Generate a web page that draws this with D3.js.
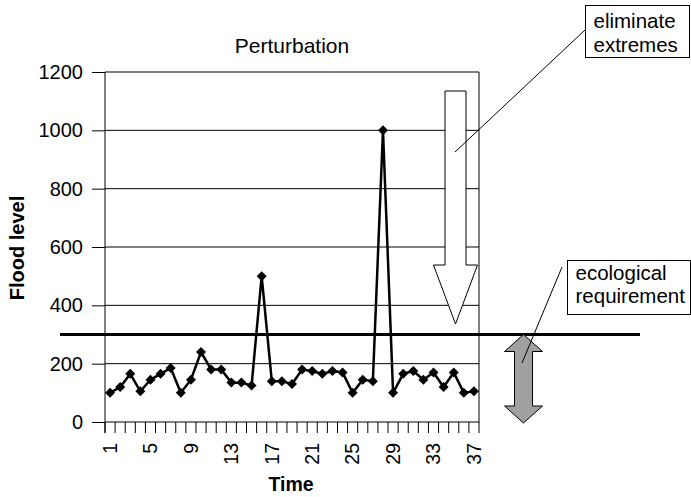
<!DOCTYPE html>
<html>
<head>
<meta charset="utf-8">
<script src="https://cdn.jsdelivr.net/npm/d3@7"></script>
<style>
  html, body { margin: 0; padding: 0; background: #fff; }
  svg text { font-family: "Liberation Sans", Arial, Helvetica, sans-serif; fill: #000; }
</style>
</head>
<body>
<svg id="chart" width="691" height="497"></svg>
<script>
// Time steps and flood level readings
const times = d3.range(1, 38);
const floodLevels = [100, 120, 165, 105, 145, 165, 185, 100, 145, 240,
                     180, 180, 135, 135, 125, 500, 140, 140, 130, 180,
                     175, 165, 175, 170, 100, 145, 140, 1000, 100, 165,
                     175, 145, 170, 120, 170, 100, 105];
const yTicks = [0, 200, 400, 600, 800, 1000, 1200];
const xTickLabels = [1, 5, 9, 13, 17, 21, 25, 29, 33, 37];
const requirementLevel = 300;

const svg = d3.select("#chart");
const plot = { left: 105, right: 479, top: 72, bottom: 422 };

const x = d3.scaleBand().domain(times).range([plot.left, plot.right]).padding(0);
const y = d3.scaleLinear().domain([0, 1200]).range([plot.bottom, plot.top]);

// Horizontal gridlines
svg.append("g")
  .selectAll("line")
  .data(yTicks.filter(d => d > 0))
  .join("line")
  .attr("x1", plot.left).attr("x2", plot.right)
  .attr("y1", d => y(d)).attr("y2", d => y(d))
  .attr("stroke", "#000").attr("stroke-width", 1);

// Right border of plot area
svg.append("line")
  .attr("x1", plot.right).attr("x2", plot.right)
  .attr("y1", plot.top).attr("y2", plot.bottom)
  .attr("stroke", "#000").attr("stroke-width", 1);

// Y axis
const yAxis = svg.append("g")
  .attr("transform", `translate(${plot.left},0)`)
  .call(d3.axisLeft(y).tickValues(yTicks).tickSize(13).tickPadding(9).tickFormat(d3.format("d")));
yAxis.select(".domain").attr("stroke", "#000").attr("d", `M0,${plot.top}V${plot.bottom + 11}`);
yAxis.selectAll(".tick line").attr("stroke", "#000");
yAxis.selectAll(".tick text").attr("font-size", 20).attr("font-family", "Liberation Sans, Arial, sans-serif");

// X axis: line, boundary ticks, rotated labels
const xAxisG = svg.append("g");
xAxisG.append("line")
  .attr("x1", plot.left).attr("x2", plot.right)
  .attr("y1", plot.bottom).attr("y2", plot.bottom)
  .attr("stroke", "#000");
const boundaries = times.map(t => x(t)).concat([x(times[times.length - 1]) + x.bandwidth()]);
xAxisG.selectAll("line.tk")
  .data(boundaries)
  .join("line").attr("class", "tk")
  .attr("x1", d => d).attr("x2", d => d)
  .attr("y1", plot.bottom).attr("y2", plot.bottom + 11)
  .attr("stroke", "#000");
xAxisG.selectAll("text")
  .data(xTickLabels)
  .join("text")
  .attr("transform", d => `translate(${x(d) + x.bandwidth() / 2},${plot.bottom + 21}) rotate(-90)`)
  .attr("text-anchor", "end")
  .attr("dy", "0.35em")
  .attr("font-size", 19.5)
  .text(d => d);

// Ecological requirement threshold
svg.append("line")
  .attr("x1", 60).attr("x2", 640)
  .attr("y1", y(requirementLevel)).attr("y2", y(requirementLevel))
  .attr("stroke", "#000").attr("stroke-width", 3);

// Data line and diamond markers
const line = d3.line()
  .x((d, i) => x(times[i]) + x.bandwidth() / 2)
  .y(d => y(d));
svg.append("path")
  .datum(floodLevels)
  .attr("fill", "none")
  .attr("stroke", "#000")
  .attr("stroke-width", 2.5)
  .attr("stroke-linejoin", "miter")
  .attr("d", line);
svg.append("g")
  .selectAll("path")
  .data(floodLevels)
  .join("path")
  .attr("d", d3.symbol(d3.symbolSquare, 50))
  .attr("transform", (d, i) => `translate(${x(times[i]) + x.bandwidth() / 2},${y(d)}) rotate(45)`)
  .attr("fill", "#000");

// White downward arrow: eliminate extremes
const wa = { cx: 455.5, shaftHalf: 10.5, headHalf: 22, top: 91, headTop: 265, tip: 324 };
svg.append("path")
  .attr("d", `M${wa.cx - wa.shaftHalf},${wa.top}H${wa.cx + wa.shaftHalf}V${wa.headTop}H${wa.cx + wa.headHalf}` +
             `L${wa.cx},${wa.tip}L${wa.cx - wa.headHalf},${wa.headTop}H${wa.cx - wa.shaftHalf}Z`)
  .attr("fill", "#fff").attr("stroke", "#000").attr("stroke-width", 1);

// Grey double-headed arrow: ecological requirement band
const ga = { cx: 523.5, shaftHalf: 9, headHalf: 19, top: y(requirementLevel), bottom: 423, head: 17 };
svg.append("path")
  .attr("d", `M${ga.cx},${ga.top}L${ga.cx + ga.headHalf},${ga.top + ga.head}H${ga.cx + ga.shaftHalf}` +
             `V${ga.bottom - ga.head}H${ga.cx + ga.headHalf}L${ga.cx},${ga.bottom}L${ga.cx - ga.headHalf},${ga.bottom - ga.head}` +
             `H${ga.cx - ga.shaftHalf}V${ga.top + ga.head}H${ga.cx - ga.headHalf}Z`)
  .attr("fill", "#a0a0a0").attr("stroke", "#000").attr("stroke-width", 1);

// Callouts
function callout(box, lines, leader, firstBaseline) {
  svg.append("line")
    .attr("x1", leader[0]).attr("y1", leader[1]).attr("x2", leader[2]).attr("y2", leader[3])
    .attr("stroke", "#000").attr("stroke-width", 1);
  svg.append("rect")
    .attr("x", box.x).attr("y", box.y).attr("width", box.w).attr("height", box.h)
    .attr("fill", "#fff").attr("stroke", "#000").attr("stroke-width", 1);
  svg.append("text")
    .attr("x", box.x + 8).attr("y", box.y + firstBaseline)
    .attr("font-size", 20.5)
    .selectAll("tspan").data(lines).join("tspan")
    .attr("x", box.x + 8).attr("dy", (d, i) => i ? 23.5 : 0)
    .text(d => d);
}
callout({ x: 585.5, y: 5.5, w: 104, h: 52 }, ["eliminate", "extremes"], [585, 30, 455, 152], 22.5);
callout({ x: 567.5, y: 260.5, w: 123, h: 54 }, ["ecological", "requirement"], [562, 267, 522, 363], 19);

// Titles
svg.append("text")
  .attr("x", 292).attr("y", 53)
  .attr("text-anchor", "middle")
  .attr("font-size", 21)
  .text("Perturbation");
svg.append("text")
  .attr("x", 291).attr("y", 491)
  .attr("text-anchor", "middle")
  .attr("font-size", 19.5).attr("font-weight", "bold")
  .text("Time");
svg.append("text")
  .attr("transform", `translate(24,${(plot.top + plot.bottom) / 2 + 1}) rotate(-90)`)
  .attr("text-anchor", "middle")
  .attr("font-size", 20).attr("font-weight", "bold")
  .text("Flood level");
</script>
</body>
</html>
